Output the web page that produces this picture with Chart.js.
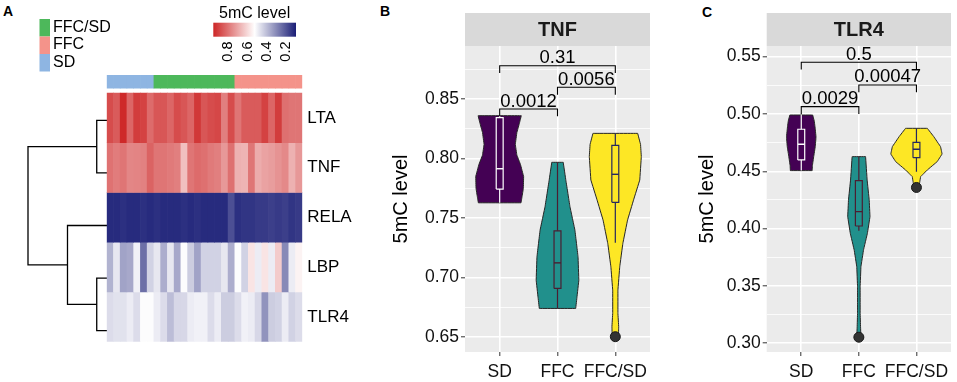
<!DOCTYPE html>
<html>
<head>
<meta charset="utf-8">
<script src="https://cdn.jsdelivr.net/npm/chart.js@4.4.0/dist/chart.umd.min.js"></script>
<style>
  body { margin: 0; background: #fff; width: 957px; height: 382px; overflow: hidden; position: relative; font-family: "Liberation Sans", Arial, sans-serif; }
  canvas { position: absolute; }
  .tag { position: absolute; font-weight: bold; font-size: 14px; color: #000; }
</style>
</head>
<body>
<div class="tag" style="left:3px;top:3px">A</div>
<div class="tag" style="left:380px;top:3px">B</div>
<div class="tag" style="left:702px;top:4px">C</div>
<canvas id="dendro" width="107" height="263" style="left:0;top:94px"></canvas>
<canvas id="heat" width="360" height="357" style="left:0;top:0"></canvas>
<canvas id="tnf" width="280" height="382" style="left:380px;top:0"></canvas>
<canvas id="tlr4" width="277" height="382" style="left:680px;top:0"></canvas>
<script>
// ---- panel A: heatmap ----
const genes = ['LTA', 'TNF', 'RELA', 'LBP', 'TLR4'];
const heatGroups = ['SD', 'FFC/SD', 'FFC'];
const heatGroupSizes = [7, 12, 10];
const legendGroups = ['FFC/SD', 'FFC', 'SD'];
const groupColors = { 'SD': '#8EB5E2', 'FFC/SD': '#4DB85B', 'FFC': '#F4938A' };

const ltaRow = [0.88, 0.85, 0.95, 0.83, 0.91, 0.90, 0.82, 0.86, 0.86, 0.83, 0.88, 0.86, 0.83, 0.92, 0.86, 0.88, 0.89, 0.78, 0.88, 0.80, 0.85, 0.85, 0.85, 0.90, 0.83, 0.91, 0.81, 0.80, 0.80];
const tnfRow = [0.805, 0.785, 0.80, 0.765, 0.77, 0.775, 0.836, 0.80, 0.80, 0.79, 0.78, 0.65, 0.80, 0.82, 0.81, 0.79, 0.78, 0.73, 0.81, 0.68, 0.675, 0.797, 0.69, 0.71, 0.72, 0.74, 0.76, 0.68, 0.73];
const relaRow = [0.12, 0.12, 0.13, 0.12, 0.12, 0.13, 0.12, 0.13, 0.12, 0.12, 0.12, 0.13, 0.12, 0.13, 0.12, 0.12, 0.12, 0.12, 0.19, 0.13, 0.14, 0.14, 0.15, 0.15, 0.16, 0.15, 0.16, 0.14, 0.15];
const lbpRow = [0.38, 0.48, 0.35, 0.36, 0.50, 0.25, 0.44, 0.48, 0.37, 0.48, 0.36, 0.52, 0.43, 0.35, 0.44, 0.44, 0.44, 0.48, 0.37, 0.52, 0.44, 0.58, 0.49, 0.58, 0.49, 0.63, 0.30, 0.49, 0.55];
const tlr4Row = [0.46, 0.47, 0.47, 0.49, 0.46, 0.52, 0.52, 0.49, 0.46, 0.40, 0.45, 0.45, 0.49, 0.50, 0.50, 0.46, 0.49, 0.43, 0.43, 0.46, 0.50, 0.49, 0.45, 0.32, 0.43, 0.44, 0.49, 0.44, 0.46];

const colorMin = 0.096;
const colorMax = 0.956;
const colorTicks = [0.8, 0.6, 0.4, 0.2];

// hclust style merges (negative = leaf), and merge heights
const dendroMerges = [[-1, -2], [-4, -5], [-3, 2], [1, 3]];
const dendroHeights = [0.13, 0.13, 0.50, 1.0];

// ---- panels B and C: violins ----
const violinCats = ['SD', 'FFC', 'FFC/SD'];
const violinFills = ['#440154', '#21908C', '#FDE725'];
const boxColors = ['#FFFFFF', '#4B1E32', '#26285E'];

// TNF
const tnfMajorTicks = [0.65, 0.70, 0.75, 0.80, 0.85];
const tnfSDLevels = [0.8362, 0.830, 0.822, 0.812, 0.803, 0.795, 0.785, 0.775, 0.768, 0.7628];
const tnfSDDensity = [0.83, 0.76, 0.66, 0.60, 0.66, 0.80, 0.92, 0.91, 0.86, 0.82];
const tnfFFCLevels = [0.7969, 0.782, 0.7594, 0.7398, 0.7173, 0.6976, 0.6836, 0.6738];
const tnfFFCDensity = [0.22, 0.32, 0.48, 0.67, 0.79, 0.82, 0.75, 0.70];
const tnfMixLevels = [0.8213, 0.812, 0.8016, 0.782, 0.7651, 0.7482, 0.7286, 0.7089, 0.6892, 0.6696, 0.6584, 0.650];
const tnfMixDensity = [0.86, 0.97, 1.0, 0.94, 0.70, 0.47, 0.29, 0.17, 0.10, 0.10, 0.13, 0.12];
const tnfLow = [0.7628, 0.6738, 0.7291];
const tnfQ1 = [0.7744, 0.6907, 0.7632];
const tnfMedian = [0.7915, 0.7122, 0.7868];
const tnfQ3 = [0.8345, 0.7392, 0.8112];
const tnfHigh = [0.8362, 0.7969, 0.8213];
const tnfOutlierGroups = ['FFC/SD'];
const tnfOutlierValues = [0.650];
const tnfPairs = [['SD', 'FFC'], ['FFC', 'FFC/SD'], ['SD', 'FFC/SD']];
const tnfPValues = ['0.0012', '0.0056', '0.31'];
const tnfBracketY = [0.8418, 0.8601, 0.8783];

// TLR4
const tlr4MajorTicks = [0.30, 0.35, 0.40, 0.45, 0.50, 0.55];
const tlr4SDLevels = [0.4991, 0.494, 0.489, 0.480, 0.4715, 0.4628, 0.455, 0.4506];
const tlr4SDDensity = [0.44, 0.50, 0.53, 0.57, 0.54, 0.48, 0.43, 0.42];
const tlr4FFCLevels = [0.4628, 0.4424, 0.425, 0.4104, 0.3959, 0.3814, 0.3668, 0.3494, 0.3262, 0.3145, 0.3053];
const tlr4FFCDensity = [0.26, 0.32, 0.40, 0.43, 0.33, 0.18, 0.08, 0.05, 0.05, 0.065, 0.08];
const tlr4MixLevels = [0.4875, 0.4802, 0.4715, 0.4651, 0.4584, 0.4512, 0.4453, 0.441, 0.4366];
const tlr4MixDensity = [0.42, 0.67, 0.93, 0.99, 0.80, 0.42, 0.16, 0.13, 0.10];
const tlr4Low = [0.4506, 0.3982, 0.4497];
const tlr4Q1 = [0.4599, 0.4023, 0.4619];
const tlr4Median = [0.4736, 0.4148, 0.4692];
const tlr4Q3 = [0.4867, 0.4419, 0.4753];
const tlr4High = [0.4991, 0.4628, 0.4875];
const tlr4OutlierGroups = ['FFC', 'FFC/SD'];
const tlr4OutlierValues = [0.3053, 0.4359];
const tlr4Pairs = [['SD', 'FFC'], ['FFC', 'FFC/SD'], ['SD', 'FFC/SD']];
const tlr4PValues = ['0.0029', '0.00047', '0.5'];
const tlr4BracketY = [0.5064, 0.5253, 0.5451];

const FONT = '"Liberation Sans", Arial, sans-serif';
Chart.defaults.font.family = FONT;
Chart.defaults.color = '#000';

// navy - white - firebrick3 ramp over the data range
function heatColor(v) {
  const mid = (colorMin + colorMax) / 2;
  const lo = [26, 30, 118], hi = [205, 38, 38];
  const c = v >= mid ? hi : lo;
  const t = Math.min(1, v >= mid ? (v - mid) / (colorMax - mid) : (mid - v) / (mid - colorMin));
  return 'rgb(' + [0, 1, 2].map(i => Math.round(255 + (c[i] - 255) * t)).join(',') + ')';
}

// ---- dendrogram ----
function dendroSegments() {
  const pos = [];
  return dendroMerges.map((m, k) => {
    const ch = m.map(c => c < 0 ? { y: -c - 0.5, h: 0 } : { y: pos[c - 1], h: dendroHeights[c - 1] });
    const h = dendroHeights[k];
    pos[k] = (ch[0].y + ch[1].y) / 2;
    return [{ x: ch[0].h, y: ch[0].y }, { x: h, y: ch[0].y }, { x: h, y: ch[1].y }, { x: ch[1].h, y: ch[1].y }];
  });
}

new Chart(document.getElementById('dendro'), {
  type: 'line',
  data: {
    datasets: dendroSegments().map(pts => ({
      data: pts, borderColor: '#000', borderWidth: 1.3, pointRadius: 0, tension: 0.0001, clip: false
    }))
  },
  options: {
    responsive: false, animation: false, events: [],
    layout: { padding: { left: 28, right: 0, top: 0, bottom: 0 } },
    plugins: { legend: { display: false }, tooltip: { enabled: false } },
    scales: {
      x: { type: 'linear', reverse: true, min: 0, max: 1, display: false },
      y: { type: 'linear', reverse: true, min: 0, max: 5, display: false }
    }
  }
});

// ---- heatmap ----
const colGroups = heatGroups.flatMap((g, i) => Array(heatGroupSizes[i]).fill(g));
const heatRows = [ltaRow, tnfRow, relaRow, lbpRow, tlr4Row];

const heatLegend = {
  id: 'heatLegend',
  afterDraw(chart) {
    const ctx = chart.ctx;
    ctx.save();
    ctx.font = '16px ' + FONT;
    ctx.textBaseline = 'middle';
    ctx.textAlign = 'left';
    legendGroups.forEach((g, i) => {
      const top = 19 + i * 17.5;
      ctx.fillStyle = groupColors[g];
      ctx.fillRect(39.5, top, 10.5, 17.5);
      ctx.fillStyle = '#000';
      ctx.fillText(g, 53, top + 8.5);
    });
    const bx0 = 213.3, bx1 = 296, by0 = 22.7, by1 = 36.7;
    const grad = ctx.createLinearGradient(bx0, 0, bx1, 0);
    grad.addColorStop(0, heatColor(colorMax));
    grad.addColorStop(0.5, heatColor((colorMin + colorMax) / 2));
    grad.addColorStop(1, heatColor(colorMin));
    ctx.fillStyle = grad;
    ctx.fillRect(bx0, by0, bx1 - bx0, by1 - by0);
    ctx.fillStyle = '#000';
    ctx.textAlign = 'center';
    ctx.fillText('5mC level', (bx0 + bx1) / 2, 13.5);
    ctx.font = '14.5px ' + FONT;
    colorTicks.forEach(v => {
      const x = bx0 + (colorMax - v) / (colorMax - colorMin) * (bx1 - bx0);
      ctx.save();
      ctx.translate(x, 41.5);
      ctx.rotate(-Math.PI / 2);
      ctx.textAlign = 'right';
      ctx.textBaseline = 'middle';
      ctx.fillText(v.toFixed(1), 0, 0);
      ctx.restore();
    });
    ctx.restore();
  }
};

new Chart(document.getElementById('heat'), {
  type: 'bar',
  data: {
    labels: colGroups.map((g, i) => String(i + 1)),
    datasets: [
      { data: colGroups.map(() => [-0.362, -0.095]), backgroundColor: colGroups.map(g => groupColors[g]) },
      ...heatRows.map((vals, r) => ({ data: vals.map(() => [r, r + 1]), backgroundColor: vals.map(heatColor) }))
    ]
  },
  options: {
    responsive: false, animation: false, events: [],
    layout: { padding: { left: 106.7, top: 75, right: 0, bottom: 0 } },
    datasets: { bar: { grouped: false, barPercentage: 1, categoryPercentage: 1, borderWidth: 0 } },
    plugins: { legend: { display: false }, tooltip: { enabled: false } },
    scales: {
      x: { type: 'category', display: false },
      y: {
        type: 'linear', position: 'right', reverse: true, min: -0.362, max: 5,
        afterBuildTicks: ax => { ax.ticks = genes.map((g, i) => ({ value: i + 0.5 })); },
        afterFit: s => { s.width = 57.7; },
        ticks: { callback: (v) => genes[Math.floor(v)], font: { size: 17 }, color: '#000', padding: 5, autoSkip: false },
        grid: { display: false, drawTicks: false },
        border: { display: false }
      }
    }
  },
  plugins: [heatLegend]
});

// ---- violin panels ----
const VIOLIN_HALF = 0.45;
const BOX_HALF = 0.06;

const panelDecor = {
  id: 'panelDecor',
  beforeDraw(chart, args, opts) {
    const { ctx, chartArea: a } = chart;
    ctx.save();
    ctx.fillStyle = '#EBEBEB';
    ctx.fillRect(a.left, a.top, a.right - a.left, a.bottom - a.top);
    ctx.fillStyle = '#D9D9D9';
    ctx.fillRect(a.left, a.top - 33, a.right - a.left, 33);
    ctx.fillStyle = '#1A1A1A';
    ctx.font = 'bold 20px ' + FONT;
    ctx.textAlign = 'center';
    ctx.textBaseline = 'middle';
    ctx.fillText(opts.strip, (a.left + a.right) / 2, a.top - 16);
    ctx.restore();
  },
  afterDatasetsDraw(chart, args, opts) {
    const { ctx, scales: { x, y } } = chart;
    ctx.save();
    ctx.fillStyle = '#000';
    ctx.font = '18.5px ' + FONT;
    ctx.textAlign = 'center';
    ctx.textBaseline = 'alphabetic';
    opts.pairs.forEach((p, i) => {
      const xm = (x.getPixelForValue(violinCats.indexOf(p[0]) + 1) + x.getPixelForValue(violinCats.indexOf(p[1]) + 1)) / 2;
      ctx.fillText(opts.labels[i], xm, y.getPixelForValue(opts.heights[i]) - 2.5);
    });
    ctx.restore();
  }
};

function tickList(major, min, max) {
  const step = major[1] - major[0];
  const list = major.map(v => ({ value: v, isMajor: true }));
  for (let k = -1; k < major.length; k++) {
    const v = +(major[0] + step * (k + 0.5)).toFixed(4);
    if (v > min && v < max) list.push({ value: v, isMajor: false });
  }
  return list.sort((a, b) => a.value - b.value);
}

function violinChart(id, c) {
  const ds = [];
  c.levels.forEach((lv, i) => {
    const x = i + 1;
    const w = c.density[i].map(d => d * VIOLIN_HALF);
    const left = lv.map((y, k) => ({ x: x - w[k], y }));
    const right = lv.map((y, k) => ({ x: x + w[k], y })).reverse();
    ds.push({ data: [...left, ...right, left[0]], fill: 'shape', backgroundColor: violinFills[i], borderColor: '#262626', borderWidth: 1, order: 6 });
    ds.push({ data: [{ x, y: c.low[i] }, { x, y: c.high[i] }], borderColor: boxColors[i], borderWidth: 1.2, order: 5 });
    ds.push({
      data: [{ x: x - BOX_HALF, y: c.q1[i] }, { x: x + BOX_HALF, y: c.q1[i] }, { x: x + BOX_HALF, y: c.q3[i] }, { x: x - BOX_HALF, y: c.q3[i] }, { x: x - BOX_HALF, y: c.q1[i] }],
      fill: 'shape', backgroundColor: violinFills[i], borderColor: boxColors[i], borderWidth: 1.2, borderJoinStyle: 'miter', order: 4
    });
    ds.push({ data: [{ x: x - BOX_HALF, y: c.median[i] }, { x: x + BOX_HALF, y: c.median[i] }], borderColor: boxColors[i], borderWidth: 1.4, order: 3 });
  });
  ds.push({
    data: c.outGroups.map((g, k) => ({ x: violinCats.indexOf(g) + 1, y: c.outValues[k] })),
    showLine: false, pointRadius: 5, pointBackgroundColor: '#333333', pointBorderColor: '#1A1A1A', pointBorderWidth: 1, order: 2
  });
  const range = c.max - c.min;
  c.pairs.forEach((p, k) => {
    const a = violinCats.indexOf(p[0]) + 1, b = violinCats.indexOf(p[1]) + 1, h = c.bracket[k];
    const tip = h - range * 0.024;
    ds.push({ data: [{ x: a, y: tip }, { x: a, y: h }, { x: b, y: h }, { x: b, y: tip }], borderColor: '#000', borderWidth: 1.1, order: 1 });
  });

  return new Chart(document.getElementById(id), {
    type: 'line',
    data: { datasets: ds },
    options: {
      responsive: false, animation: false, events: [],
      layout: { padding: { left: 0, top: 46, right: c.padRight, bottom: 0 } },
      // a tiny tension avoids the fast path that merges points sharing a pixel column
      elements: { point: { radius: 0 }, line: { tension: 0.0001 } },
      plugins: {
        legend: { display: false }, tooltip: { enabled: false },
        panelDecor: { strip: c.strip, pairs: c.pairs, labels: c.pLabels, heights: c.bracket }
      },
      scales: {
        x: {
          type: 'linear', min: 0.4, max: 3.6,
          afterBuildTicks: ax => { ax.ticks = violinCats.map((g, i) => ({ value: i + 1 })); },
          afterFit: s => { s.height = 30; },
          ticks: { callback: v => violinCats[v - 1], font: { size: 17.5 }, color: '#111', padding: 6, maxRotation: 0, autoSkip: false },
          grid: { color: '#FFFFFF', lineWidth: 1.6, tickColor: '#333333', tickLength: 4, tickWidth: 1 },
          border: { display: false }
        },
        y: {
          type: 'linear', min: c.min, max: c.max,
          afterBuildTicks: ax => { ax.ticks = tickList(c.major, c.min, c.max); },
          afterFit: s => { s.width = c.axisWidth; },
          ticks: {
            callback: (v, i, t) => t[i].isMajor ? v.toFixed(2) : '',
            font: { size: 17.5 }, color: '#111', padding: 2, autoSkip: false
          },
          grid: {
            color: '#FFFFFF',
            lineWidth: ctx => ctx.tick && ctx.tick.isMajor ? 1.6 : 0.8,
            tickColor: ctx => ctx.tick && ctx.tick.isMajor ? '#333333' : 'rgba(0,0,0,0)',
            tickLength: 4, tickWidth: 1
          },
          border: { display: false },
          title: { display: true, text: '5mC level', font: { size: 20 }, color: '#000', padding: { top: c.titlePad, bottom: 0 } }
        }
      }
    },
    plugins: [panelDecor]
  });
}

violinChart('tnf', {
  strip: 'TNF', min: 0.6371, max: 0.8949, major: tnfMajorTicks, axisWidth: 85, padRight: 10, titlePad: 9.5,
  levels: [tnfSDLevels, tnfFFCLevels, tnfMixLevels], density: [tnfSDDensity, tnfFFCDensity, tnfMixDensity],
  low: tnfLow, q1: tnfQ1, median: tnfMedian, q3: tnfQ3, high: tnfHigh,
  outGroups: tnfOutlierGroups, outValues: tnfOutlierValues,
  pairs: tnfPairs, pLabels: tnfPValues, bracket: tnfBracketY
});

violinChart('tlr4', {
  strip: 'TLR4', min: 0.2924, max: 0.5593, major: tlr4MajorTicks, axisWidth: 86.7, padRight: 5, titlePad: 15,
  levels: [tlr4SDLevels, tlr4FFCLevels, tlr4MixLevels], density: [tlr4SDDensity, tlr4FFCDensity, tlr4MixDensity],
  low: tlr4Low, q1: tlr4Q1, median: tlr4Median, q3: tlr4Q3, high: tlr4High,
  outGroups: tlr4OutlierGroups, outValues: tlr4OutlierValues,
  pairs: tlr4Pairs, pLabels: tlr4PValues, bracket: tlr4BracketY
});
</script>
</body>
</html>
